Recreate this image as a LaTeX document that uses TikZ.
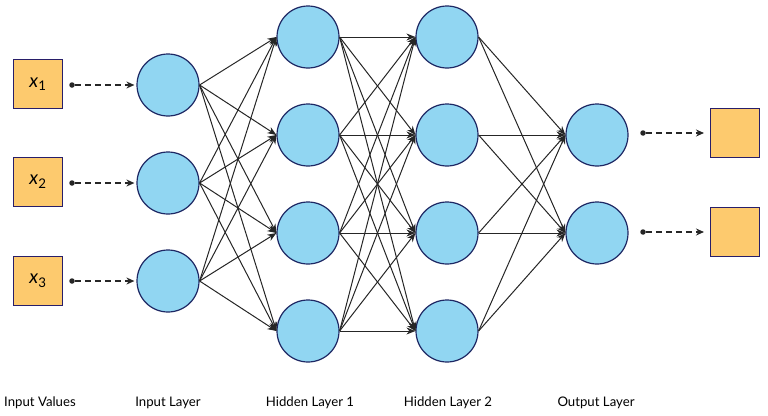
\documentclass[tikz,border=0pt]{standalone}
\usepackage{fontspec}
\setmainfont{Lato}
\usetikzlibrary{arrows.meta}
\definecolor{cfill}{RGB}{145,214,242}
\definecolor{cline}{RGB}{30,40,100}
\definecolor{sfill}{RGB}{253,202,110}
\definecolor{sline}{RGB}{40,30,105}
\begin{document}
\begin{tikzpicture}[x=1pt,y=-1pt,
  neuron/.style={circle,draw=cline,fill=cfill,line width=1.2pt,minimum size=62pt,inner sep=0pt},
  valbox/.style={rectangle,draw=sline,fill=sfill,line width=1.2pt,minimum size=49pt,inner sep=0pt,font=\fontsize{19}{19}\selectfont\itshape},
  conn/.style={-{Stealth[length=9pt,width=7pt]},line width=1pt,black!85},
  feed/.style={-{Stealth[length=8pt,width=7pt]},dash pattern=on 6pt off 4pt,line width=1.6pt,black!85,shorten >=2pt},
  dotc/.style={circle,fill=black!85,inner sep=0pt,minimum size=5.5pt},
  lab/.style={font=\fontsize{13.2}{13.2}\selectfont,anchor=base}]
\useasboundingbox (0,0) rectangle (768,415);
% input values
\node[valbox] (v1) at (38,84) {x\textsubscript{\upshape 1}};
\node[valbox] (v2) at (38,182) {x\textsubscript{\upshape 2}};
\node[valbox] (v3) at (38,281) {x\textsubscript{\upshape 3}};
% input layer
\foreach \i/\y in {1/85,2/183,3/281} \node[neuron] (i\i) at (168,\y) {};
% hidden 1
\foreach \i/\y in {1/37,2/135,3/233,4/331} \node[neuron] (a\i) at (308,\y) {};
% hidden 2
\foreach \i/\y in {1/37,2/135,3/233,4/331} \node[neuron] (b\i) at (447,\y) {};
% output
\foreach \i/\y in {1/135,2/233} \node[neuron] (o\i) at (597,\y) {};
% output squares
\node[valbox] (r1) at (735,133) {};
\node[valbox] (r2) at (735,232) {};
% feed arrows
\foreach \i/\y in {1/85,2/183,3/281} {
  \node[dotc] (d\i) at (72,\y) {};
  \draw[feed] (d\i) -- (i\i.west);
}
\foreach \i/\y in {1/133,2/232} {
  \node[dotc] (e\i) at (643,\y) {};
  \coordinate (t\i) at (706,\y);
  \draw[feed] (e\i) -- (t\i);
}
% connections
\foreach \s in {1,2,3} \foreach \t in {1,2,3,4} \draw[conn] (i\s.east) -- (a\t.west);
\foreach \s in {1,2,3,4} \foreach \t in {1,2,3,4} \draw[conn] (a\s.east) -- (b\t.west);
\foreach \s in {1,2,3,4} \foreach \t in {1,2} \draw[conn] (b\s.east) -- (o\t.west);
% labels
\node[lab] (l1) at (40,406) {Input Values};
\node[lab] (l2) at (168,406) {Input Layer};
\node[lab] (l3) at (310,406) {Hidden Layer 1};
\node[lab] (l4) at (448,406) {Hidden Layer 2};
\node[lab] (l5) at (596,406) {Output Layer};
\end{tikzpicture}
\end{document}
